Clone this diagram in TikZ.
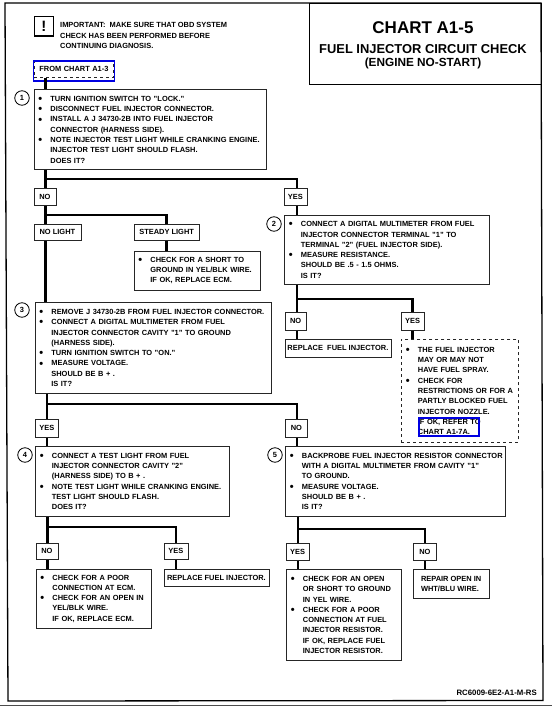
\documentclass[tikz,border=0pt]{standalone}
\usepackage{fontspec}
\setmainfont{Liberation Sans}
\usetikzlibrary{positioning}

\definecolor{markblue}{RGB}{0,0,225}
\newcommand{\dotline}{\hspace*{4.5pt}\makebox[12pt][l]{\raisebox{-1.2pt}[0pt][0pt]{\fontsize{11}{11}\selectfont\textbullet}}}
\newcommand{\noline}{\hspace*{16.5pt}}

\tikzset{
  chartfont/.style={font=\bfseries\fontsize{7.45}{10.3}\selectfont},
  chartbox/.style 2 args={draw=black!85, line width=.8pt, fill=white, anchor=north west,
    chartfont, inner xsep=0pt, inner ysep=0pt, align=left, text width=#1, minimum height=#2},
  dashbox/.style 2 args={chartbox={#1}{#2}, dashed},
  tagbox/.style 2 args={draw=black!85, line width=.8pt, fill=white, anchor=north west,
    chartfont, inner sep=0pt, align=center, minimum width=#1, minimum height=#2},
  stepnum/.style={draw=black, line width=.8pt, circle, fill=white, inner sep=0pt,
    minimum size=14.5pt, chartfont},
  wire/.style={line width=2.5pt, black},
  bluemark/.style 2 args={draw=markblue, line width=1.6pt, anchor=north west, inner sep=0pt,
    minimum width=#1, minimum height=#2}
}

\begin{document}
\begin{tikzpicture}[x=1pt,y=-1pt]

  \useasboundingbox (0,0) rectangle (552,706);

  %Frame
  \draw [line width=1.3pt] (5,3) -- (541,3) -- (543,700.5) -- (8,701) -- cycle;
  \draw [line width=.7pt, black!70] (0,705) -- (552,705);

  %Title
  \node [draw, line width=.9pt, anchor=north west, inner sep=0pt,
         minimum width=232pt, minimum height=81pt] (titlebox) at (309,3) {};
  \node [font=\bfseries\fontsize{17}{17}\selectfont] (titleone) at (423,28) {CHART A1-5};
  \node [font=\bfseries\fontsize{12.9}{12.9}\selectfont] (titletwo) at (423,49) {FUEL INJECTOR CIRCUIT CHECK};
  \node [font=\bfseries\fontsize{11.8}{11.8}\selectfont] (titlethree) at (423,63) {(ENGINE NO-START)};

  %Important note
  \node [draw, line width=1.4pt, anchor=north west, inner sep=0pt,
         minimum size=19.5pt, font=\bfseries\fontsize{15}{15}\selectfont] (iconbox) at (33.5,16) {!};
  \node [anchor=north west, inner sep=0pt, align=left, chartfont] (notetext) at (60,22.5) {
    IMPORTANT:\ \ MAKE SURE THAT OBD SYSTEM\\
    CHECK HAS BEEN PERFORMED BEFORE\\
    CONTINUING DIAGNOSIS.};

  %Start
  \node [dashbox={79pt}{17pt}, align=center] (fromchart) at (34,60.5) {FROM CHART A1-3};
  \node [bluemark={81pt}{20pt}] (frommark) at (32.5,60) {};

  %Step boxes
  \node [chartbox={232.5pt}{79.5pt}] (stepone) at (33.5,89.5) {
    \dotline TURN IGNITION SWITCH TO "LOCK."\\
    \dotline DISCONNECT FUEL INJECTOR CONNECTOR.\\
    \dotline INSTALL A J 34730-2B INTO FUEL INJECTOR\\
    \noline CONNECTOR (HARNESS SIDE).\\
    \dotline NOTE INJECTOR TEST LIGHT WHILE CRANKING ENGINE.\\
    \noline INJECTOR TEST LIGHT SHOULD FLASH.\\
    \noline DOES IT?};
  \node [chartbox={205pt}{69pt}] (steptwo) at (284,215) {
    \dotline CONNECT A DIGITAL MULTIMETER FROM FUEL\\
    \noline INJECTOR CONNECTOR TERMINAL "1" TO\\
    \noline TERMINAL "2" (FUEL INJECTOR SIDE).\\
    \dotline MEASURE RESISTANCE.\\
    \noline SHOULD BE .5 - 1.5 OHMS.\\
    \noline IS IT?};
  \node [chartbox={236.5pt}{91pt}] (stepthree) at (34.5,302) {
    \dotline REMOVE J 34730-2B FROM FUEL INJECTOR CONNECTOR.\\
    \dotline CONNECT A DIGITAL MULTIMETER FROM FUEL\\
    \noline INJECTOR CONNECTOR CAVITY "1" TO GROUND\\
    \noline (HARNESS SIDE).\\
    \dotline TURN IGNITION SWITCH TO "ON."\\
    \dotline MEASURE VOLTAGE.\\
    \noline SHOULD BE B + .\\
    \noline IS IT?};
  \node [chartbox={193.5pt}{70pt}] (stepfour) at (35,446) {
    \dotline CONNECT A TEST LIGHT FROM FUEL\\
    \noline INJECTOR CONNECTOR CAVITY "2"\\
    \noline (HARNESS SIDE) TO B + .\\
    \dotline NOTE TEST LIGHT WHILE CRANKING ENGINE.\\
    \noline TEST LIGHT SHOULD FLASH.\\
    \noline DOES IT?};
  \node [chartbox={219.5pt}{70pt}] (stepfive) at (285,446) {
    \dotline BACKPROBE FUEL INJECTOR RESISTOR CONNECTOR\\
    \noline WITH A DIGITAL MULTIMETER FROM CAVITY "1"\\
    \noline TO GROUND.\\
    \dotline MEASURE VOLTAGE.\\
    \noline SHOULD BE B + .\\
    \noline IS IT?};

  %Step numbers
  \node [stepnum] (numone) at (22,98) {1};
  \node [stepnum] (numtwo) at (274,224) {2};
  \node [stepnum] (numthree) at (22,310) {3};
  \node [stepnum] (numfour) at (25,455) {4};
  \node [stepnum] (numfive) at (275,455) {5};

  %Answers of step 1
  \node [tagbox={22pt}{17pt}] (noone) at (33.5,188) {NO};
  \node [tagbox={23pt}{17pt}] (yesone) at (283.5,188) {YES};
  \node [tagbox={47pt}{16pt}] (nolight) at (33.5,224) {NO LIGHT};
  \node [tagbox={65.5pt}{16pt}] (steadylight) at (133.5,224) {STEADY LIGHT};
  \node [chartbox={126.5pt}{39.5pt}] (steadycheck) at (133.5,250.5) {
    \dotline CHECK FOR A SHORT TO\\
    \noline GROUND IN YEL/BLK WIRE.\\
    \noline IF OK, REPLACE ECM.};

  %Answers of step 2
  \node [tagbox={21.5pt}{18pt}] (notwo) at (284.5,312) {NO};
  \node [tagbox={23.5pt}{18pt}] (yestwo) at (400.5,312) {YES};
  \node [tagbox={106pt}{18pt}] (replaceone) at (284.5,339) {REPLACE~ FUEL INJECTOR.};
  \node [dashbox={117pt}{103pt}] (spraycheck) at (401,339) {
    \dotline THE FUEL INJECTOR\\
    \noline MAY OR MAY NOT\\
    \noline HAVE FUEL SPRAY.\\
    \dotline CHECK FOR\\
    \noline RESTRICTIONS OR FOR A\\
    \noline PARTLY BLOCKED FUEL\\
    \noline INJECTOR NOZZLE.\\
    \noline IF OK, REFER TO\\
    \noline CHART A1-7A.};
  \node [bluemark={60pt}{18pt}] (refermark) at (418,417) {};

  %Answers of step 3
  \node [tagbox={23pt}{18pt}] (yesthree) at (35,419) {YES};
  \node [tagbox={22pt}{18pt}] (nothree) at (285,419) {NO};

  %Answers of step 4
  \node [tagbox={22pt}{16pt}] (nofour) at (35.5,543) {NO};
  \node [tagbox={24pt}{16pt}] (yesfour) at (163.5,543) {YES};
  \node [chartbox={115.5pt}{59.5pt}] (ecmcheck) at (35.5,568.5) {
    \dotline CHECK FOR A POOR\\
    \noline CONNECTION AT ECM.\\
    \dotline CHECK FOR AN OPEN IN\\
    \noline YEL/BLK WIRE.\\
    \noline IF OK, REPLACE ECM.};
  \node [tagbox={105pt}{17.5pt}] (replacetwo) at (163.5,568.5) {REPLACE FUEL INJECTOR.};

  %Answers of step 5
  \node [tagbox={23.5pt}{17pt}] (yesfive) at (285.5,543) {YES};
  \node [tagbox={23pt}{17pt}] (nofive) at (413,543) {NO};
  \node [chartbox={115pt}{91pt}] (resistorcheck) at (286,569) {
    \dotline CHECK FOR AN OPEN\\
    \noline OR SHORT TO GROUND\\
    \noline IN YEL WIRE.\\
    \dotline CHECK FOR A POOR\\
    \noline CONNECTION AT FUEL\\
    \noline INJECTOR RESISTOR.\\
    \noline IF OK, REPLACE FUEL\\
    \noline INJECTOR RESISTOR.};
  \node [tagbox={75.5pt}{29pt}, align=left] (repairopen) at (413,569) {REPAIR OPEN IN\\WHT/BLU WIRE.};

  %Part number
  \node [anchor=east, inner sep=0pt, font=\bfseries\fontsize{7.8}{8}\selectfont] (partno) at (537,693) {RC6009-6E2-A1-M-RS};

  %Branch points
  \coordinate (splitone) at (45.5,179);
  \coordinate (splitnoone) at (45.5,215);
  \coordinate (splittwo) at (297,299);
  \coordinate (splitthree) at (47,404);
  \coordinate (splitfour) at (47.5,527);
  \coordinate (splitfive) at (298,529);

  %Connectors
  \draw [wire] (fromchart.south -| splitone) -- (stepone.north -| splitone);
  \draw [wire] (stepone.south -| splitone) -- (noone.north -| splitone);
  \draw [wire] (splitone) -| (yesone.north -| splittwo);
  \draw [wire] (yesone.south -| splittwo) -- (steptwo.north -| splittwo);
  \draw [wire] (noone.south -| splitone) -- (nolight.north -| splitone);
  \draw [wire] (splitnoone) -| (steadylight.north);
  \draw [wire] (steadylight.south) -- (steadycheck.north -| steadylight.south);
  \draw [wire] (nolight.south -| splitone) -- (stepthree.north -| splitone);

  \draw [wire] (steptwo.south -| splittwo) -- (notwo.north -| splittwo);
  \draw [wire] (splittwo) -| (yestwo.north);
  \draw [wire] (notwo.south -| splittwo) -- (replaceone.north -| splittwo);
  \draw [wire] (yestwo.south) -- (spraycheck.north -| yestwo.south);

  \draw [wire] (stepthree.south -| splitthree) -- (yesthree.north -| splitthree);
  \draw [wire] (splitthree) -| (nothree.north -| splittwo);
  \draw [wire] (yesthree.south -| splitthree) -- (stepfour.north -| splitthree);
  \draw [wire] (nothree.south -| splittwo) -- (stepfive.north -| splittwo);

  \draw [wire] (stepfour.south -| splitfour) -- (nofour.north -| splitfour);
  \draw [wire] (splitfour) -| (yesfour.north);
  \draw [wire] (nofour.south -| splitfour) -- (ecmcheck.north -| splitfour);
  \draw [wire] (yesfour.south) -- (replacetwo.north -| yesfour.south);

  \draw [wire] (stepfive.south -| splitfive) -- (yesfive.north -| splitfive);
  \draw [wire] (splitfive) -| (nofive.north);
  \draw [wire] (yesfive.south -| splitfive) -- (resistorcheck.north -| splitfive);
  \draw [wire] (nofive.south) -- (repairopen.north -| nofive.south);

\end{tikzpicture}
\end{document}
